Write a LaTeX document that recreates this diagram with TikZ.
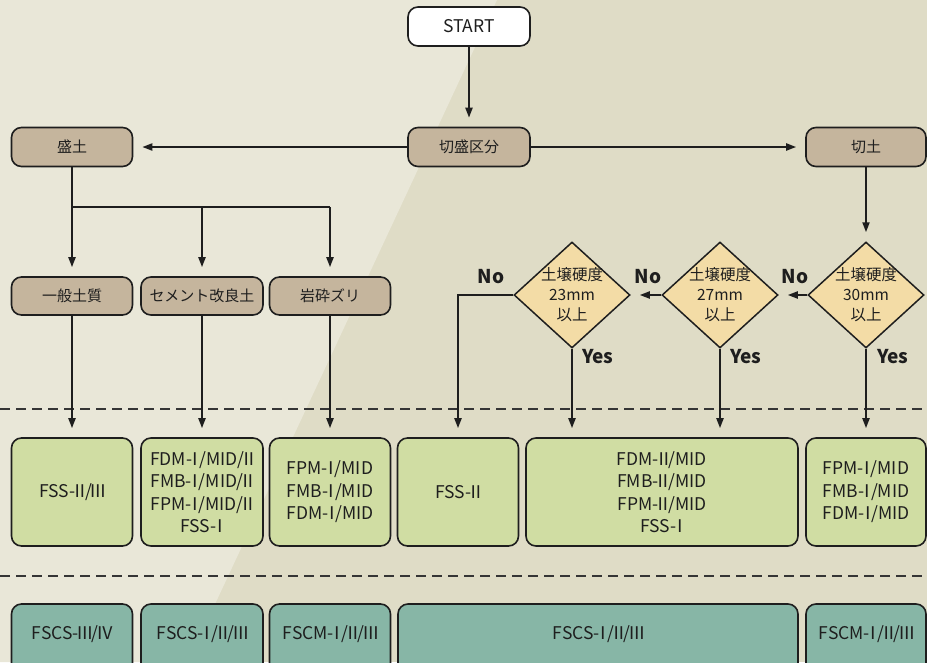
\documentclass[tikz,border=0pt]{standalone}
\usepackage{fontspec}
\setmainfont{Noto Sans CJK JP}
\usetikzlibrary{arrows.meta,shapes.geometric}

% Roman numerals: trim the full-width side bearings
\newcommand\rI{\kern-.3em Ⅰ\kern-.3em}
\newcommand\rII{\kern-.22em Ⅱ\kern-.22em}
\newcommand\rIII{\kern-.14em Ⅲ\kern-.14em}
\newcommand\rIV{\kern-.11em Ⅳ\kern-.11em}

\definecolor{bglight}{HTML}{E9E7D8}
\definecolor{bgdark}{HTML}{DFDCC6}
\definecolor{tanfill}{HTML}{C5B59D}
\definecolor{greenfill}{HTML}{D0DDA3}
\definecolor{tealfill}{HTML}{87B6A6}
\definecolor{decfill}{HTML}{F3DCA6}
\definecolor{inkc}{HTML}{1E1E1E}

\tikzset{
  box/.style={draw=inkc, line width=1.6pt, rounded corners=10pt, inner sep=0pt, align=center, text=inkc},
  jp/.style={font=\fontsize{15}{20}\selectfont},
  lat/.style={font=\fontsize{17.5}{22.5}\selectfont},
  stepnode/.style={box, jp, fill=tanfill, minimum height=39pt},
  startnode/.style={box, lat, fill=white, minimum height=39pt, minimum width=122pt},
  resnode/.style={box, lat, fill=greenfill, minimum height=108pt},
  finnode/.style={box, fill=tealfill, minimum height=80pt},
  fintext/.style={lat, text=inkc, yshift=10pt},
  decnode/.style={draw=inkc, line width=1.5pt, fill=decfill, shape=diamond, inner sep=0pt,
    minimum width=116pt, minimum height=106pt},
  dectext/.style={align=center, text=inkc, font=\fontsize{15.5}{20}\selectfont},
  link/.style={draw=inkc, line width=2pt},
  arr/.style={link, -{Triangle[length=10pt,width=7pt]}, shorten >=9pt},
  yn/.style={font=\bfseries\fontsize{19}{21}\selectfont, text=inkc, inner sep=0pt},
  sep/.style={draw=inkc!90, line width=1.2pt, dash pattern=on 10pt off 6pt}
}

\begin{document}
\begin{tikzpicture}[x=1pt, y=-1pt]
  \useasboundingbox (0,0) rectangle (927,662);
  \clip (0,0) rectangle (927,662);

  % two-tone backdrop
  \fill[bgdark] (0,0) rectangle (927,662);
  \fill[bglight] (0,0) -- (497,0) -- (188,662) -- (0,662) -- cycle;

  % section separators
  \draw[sep] (0,409) -- (927,409);
  \draw[sep] (0,576) -- (927,576);

  % top steps
  \node[startnode] (start) at (469,26.5) {START};
  \node[stepnode, minimum width=122pt] (km) at (469,147) {切盛区分};
  \node[stepnode, minimum width=121pt] (mori) at (72,147) {盛土};
  \node[stepnode, minimum width=120pt] (kiri) at (866,147) {切土};

  % fill material types
  \node[stepnode, minimum width=121pt, minimum height=38pt] (ippan) at (72,296) {一般土質};
  \node[stepnode, minimum width=122pt, minimum height=38pt] (cem) at (202,296) {セメント改良土};
  \node[stepnode, minimum width=121pt, minimum height=38pt] (gan) at (330,296) {岩砕ズリ};

  % soil hardness decisions
  \node[decnode, label={[dectext]center:{土壌硬度\\30mm\\以上}}] (d30) at (866,295) {};
  \node[decnode, label={[dectext]center:{土壌硬度\\27mm\\以上}}] (d27) at (720,295) {};
  \node[decnode, label={[dectext]center:{土壌硬度\\23mm\\以上}}] (d23) at (572,295) {};

  % result boxes
  \node[resnode, minimum width=121pt] (g1) at (72,492) {FSS-\rII/\rIII};
  \node[resnode, minimum width=122pt] (g2) at (202,492) {FDM-\rI/MID/\rII\\FMB-\rI/MID/\rII\\FPM-\rI/MID/\rII\\FSS-\rI};
  \node[resnode, minimum width=121pt] (g3) at (330,492) {FPM-\rI/MID\\FMB-\rI/MID\\FDM-\rI/MID};
  \node[resnode, minimum width=121pt] (g4) at (458,492) {FSS-\rII};
  \node[resnode, minimum width=272pt] (g5) at (662,492) {FDM-\rII/MID\\FMB-\rII/MID\\FPM-\rII/MID\\FSS-\rI};
  \node[resnode, minimum width=120pt] (g6) at (866,492) {FPM-\rI/MID\\FMB-\rI/MID\\FDM-\rI/MID};

  % final classes
  \node[finnode, minimum width=121pt, label={[fintext]center:FSCS-\rIII/\rIV}] (t1) at (72,644) {};
  \node[finnode, minimum width=122pt, label={[fintext]center:FSCS-\rI/\rII/\rIII}] (t2) at (202,644) {};
  \node[finnode, minimum width=121pt, label={[fintext]center:FSCM-\rI/\rII/\rIII}] (t3) at (330,644) {};
  \node[finnode, minimum width=400pt, label={[fintext]center:FSCS-\rI/\rII/\rIII}] (t4) at (598,644) {};
  \node[finnode, minimum width=120pt, label={[fintext]center:FSCM-\rI/\rII/\rIII}] (t5) at (866,644) {};

  % connectors
  \draw[arr] (start) -- (km);
  \draw[arr] (km.west) -- (mori.east);
  \draw[arr] (km.east) -- (kiri.west);

  \coordinate (br) at (72,207);
  \draw[link] (mori.south) -- (br) -- (br -| gan.north);
  \draw[arr] (br) -- (ippan.north);
  \draw[arr] (br -| cem.north) -- (cem.north);
  \draw[arr] (br -| gan.north) -- (gan.north);

  \draw[arr] (ippan) -- (g1);
  \draw[arr] (cem) -- (g2);
  \draw[arr] (gan) -- (g3);

  \draw[arr] (kiri) -- (d30);
  \draw[arr] (d30.west) -- (d27.east);
  \draw[arr] (d27.west) -- (d23.east);
  \draw[arr] (d23.west) -| (g4.north);
  \draw[arr] (d30.south) -- (d30.south |- g6.north);
  \draw[arr] (d27.south) -- (d27.south |- g5.north);
  \draw[arr] (d23.south) -- (d23.south |- g5.north);

  % branch labels
  \node[yn] (no30) at (795,277) {No};
  \node[yn] (no27) at (648,277) {No};
  \node[yn] (no23) at (491,277) {No};
  \node[yn, anchor=west] (yes30) at (877,357) {Yes};
  \node[yn, anchor=west] (yes27) at (730,357) {Yes};
  \node[yn, anchor=west] (yes23) at (582,357) {Yes};
\end{tikzpicture}
\end{document}
